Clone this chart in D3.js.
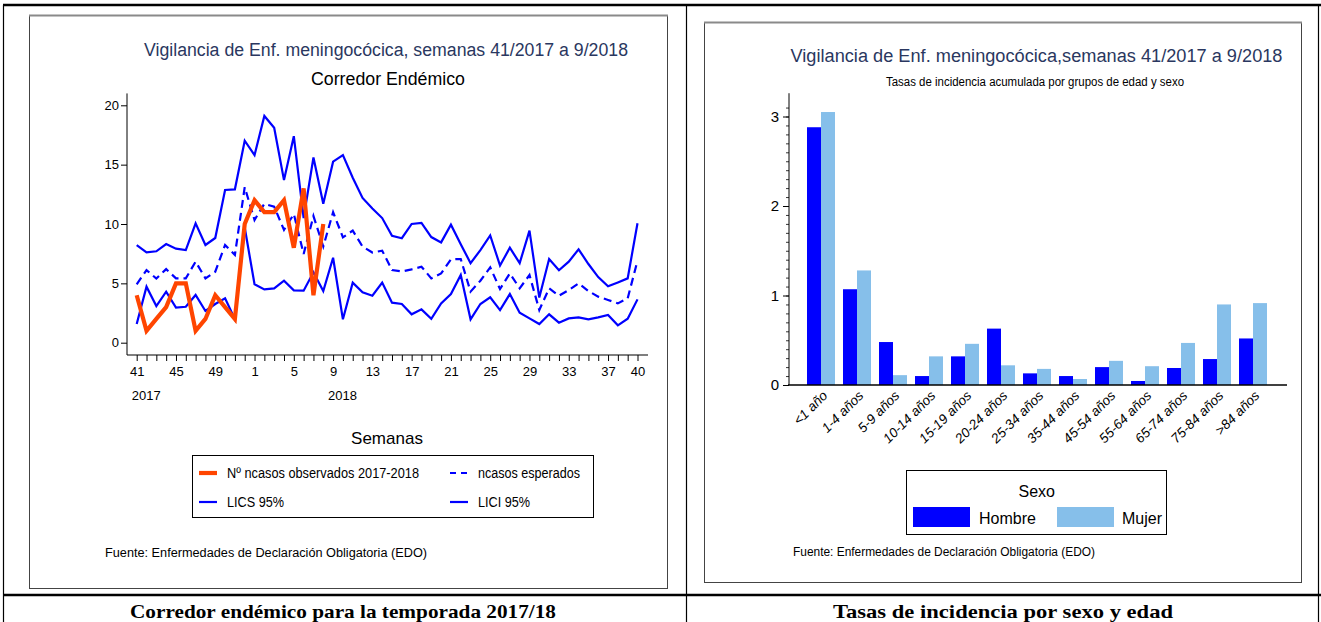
<!DOCTYPE html>
<html><head><meta charset="utf-8">
<script src="https://cdn.jsdelivr.net/npm/d3@7"></script>
<style>body{margin:0;background:#fff}svg{display:block}</style>
</head><body>
<svg id="c" width="1321" height="622"></svg>
<script>
// ---------- DATA ----------
const weeks = ["41","42","43","44","45","46","47","48","49","50","51","52",
  "1","2","3","4","5","6","7","8","9","10","11","12","13","14","15","16","17","18","19","20",
  "21","22","23","24","25","26","27","28","29","30","31","32","33","34","35","36","37","38","39","40"];
const weekTickLabels = ["41","45","49","1","5","9","13","17","21","25","29","33","37","40"];
const yearLabels = [{week:"41", label:"2017"},{week:"9", label:"2018"}];
const observed = [4,1,2,3,5,5,1,2,4,3,2,10,12,11,11,12,8,13,4,10];
const expected = [4.92,6.12,5.4,6.2,5.42,5.42,6.83,5.42,5.98,8.23,7.39,13.1,10.34,11.7,11.46,9.5,10.84,7.47,10.67,8.1,
  11.0,8.88,9.44,8.1,7.6,7.75,6.12,6.0,6.18,6.4,5.42,5.84,7.02,7.05,4.3,5.22,6.35,4.52,5.84,4.58,
  5.7,2.75,4.58,3.96,4.44,5.0,4.35,3.88,3.6,3.31,3.74,6.9];
const lics = [8.23,7.61,7.7,8.31,7.92,7.8,10.06,8.23,8.82,12.87,12.92,17.02,15.8,19.1,18.1,13.7,17.4,10.5,15.6,11.7,
  15.25,15.8,13.9,12.2,11.3,10.5,9.0,8.8,10.0,10.1,8.9,8.45,9.94,8.3,6.7,7.8,9.04,6.5,8.0,6.7,
  9.44,3.8,7.05,6.1,6.83,7.87,6.63,5.53,4.75,5.08,5.42,10.06];
const lici = [1.57,4.72,3.09,4.3,2.95,3.03,4.02,2.67,3.26,3.74,1.97,9.7,4.92,4.49,4.58,5.22,4.41,4.38,5.93,4.35,
  7.16,1.97,5.06,4.24,3.96,5.06,3.37,3.26,2.39,2.81,2.02,3.31,4.1,5.7,1.97,3.26,3.82,2.75,4.1,2.53,
  2.05,1.57,2.39,1.69,2.05,2.13,1.97,2.13,2.33,1.46,2.02,3.65];
const leftYTicks = [0,5,10,15,20];

const ageGroups = ["<1 año","1-4 años","5-9 años","10-14 años","15-19 años","20-24 años","25-34 años",
  "35-44 años","45-54 años","55-64 años","65-74 años","75-84 años",">84 años"];
const sexes = ["Hombre","Mujer"];
const hombre = [2.88,1.07,0.48,0.10,0.32,0.63,0.13,0.10,0.20,0.045,0.19,0.29,0.52];
const mujer  = [3.05,1.28,0.11,0.32,0.46,0.22,0.18,0.067,0.27,0.21,0.47,0.90,0.915];
const rightYTicks = [0,1,2,3];

// ---------- STYLE ----------
const NARROW = "'Liberation Sans Narrow','Arial Narrow','Liberation Sans',Arial,sans-serif";
const SERIF = "'Liberation Serif','Times New Roman',serif";
const BLUE = "#0000ff", ORANGE = "#ff4500", LIGHT = "#86bfea", NAVY = "#2a3760";

const svg = d3.select("#c");
svg.append("rect").attr("width",1321).attr("height",622).attr("fill","#fff");

// ---------- OUTER TABLE ----------
const tbl = svg.append("g").attr("stroke","#000").attr("fill","none");
tbl.append("line").attr("x1",3).attr("x2",1321).attr("y1",5).attr("y2",5).attr("stroke-width",2.5);
tbl.append("line").attr("x1",3.5).attr("x2",3.5).attr("y1",5).attr("y2",622).attr("stroke-width",1.2);
tbl.append("line").attr("x1",686.5).attr("x2",686.5).attr("y1",5).attr("y2",622).attr("stroke-width",1.2);
tbl.append("line").attr("x1",1318.5).attr("x2",1318.5).attr("y1",5).attr("y2",622).attr("stroke-width",1.2);
tbl.append("line").attr("x1",3).attr("x2",1321).attr("y1",595).attr("y2",595).attr("stroke-width",2.5);

function frame(x,y,w,h){
  svg.append("rect").attr("x",x+0.5).attr("y",y+0.5).attr("width",w).attr("height",h)
    .attr("fill","none").attr("stroke","#444").attr("stroke-width",1);
  svg.append("line").attr("x1",x).attr("x2",x+w+1).attr("y1",y+0.5).attr("y2",y+0.5)
    .attr("stroke","#8a8a8a").attr("stroke-width",2.2);
}
frame(29,15,638,573);
frame(704,22,597,560);

function txt(g, x, y, s, o){
  o = o || {};
  const t = g.append("text").attr("x",x).attr("y",y).text(s)
    .attr("font-family", o.family || NARROW).attr("font-size", o.size || 13)
    .attr("fill", o.fill || "#000").attr("text-anchor", o.anchor || "start")
    .attr("dominant-baseline","central");
  if (o.weight) t.attr("font-weight", o.weight);
  if (o.len) t.attr("textLength", o.len).attr("lengthAdjust","spacingAndGlyphs");
  return t;
}

// ---------- LEFT CHART ----------
const L = svg.append("g");
const xp = d3.scalePoint().domain(weeks).range([136.7,637.5]);
const yL = d3.scaleLinear().domain([0,20]).range([342.7,105.3]);

txt(L, 386, 50, "Vigilancia de Enf. meningocócica, semanas 41/2017 a 9/2018", {size:18, fill:NAVY, anchor:"middle", len:484});
txt(L, 388, 79, "Corredor Endémico", {size:18, anchor:"middle", len:154});

// y axis
const yAx = L.append("g").attr("transform","translate(127,0)")
  .call(d3.axisLeft(yL).tickValues(leftYTicks).tickSize(6).tickPadding(2));
yAx.select(".domain").remove();
yAx.selectAll("text").attr("font-family",NARROW).attr("font-size",13).attr("fill","#000");
yAx.selectAll("line").attr("stroke","#000");
L.append("line").attr("x1",127).attr("x2",127).attr("y1",yL(21)).attr("y2",355)
  .attr("stroke","#000").attr("stroke-width",1);

// x axis
const xAx = L.append("g").attr("transform","translate(0,355)")
  .call(d3.axisBottom(xp).tickValues(weeks).tickSize(6).tickPadding(6)
    .tickFormat(d => weekTickLabels.includes(d) ? d : ""));
xAx.select(".domain").remove();
xAx.selectAll("text").attr("font-family",NARROW).attr("font-size",13).attr("fill","#000");
xAx.selectAll("line").attr("stroke","#000");
L.append("line").attr("x1",127).attr("x2",xp(weeks[weeks.length-1]) + xp.step()*1.07).attr("y1",355).attr("y2",355)
  .attr("stroke","#000").attr("stroke-width",1.2);
yearLabels.forEach(d => txt(L, xp(d.week)-5, 395, d.label, {size:13}));

txt(L, 387, 438, "Semanas", {size:17, anchor:"middle"});

// lines
const line = d3.line().x((d,i) => xp(weeks[i])).y(d => yL(d));
L.append("path").datum(lics).attr("d",line).attr("fill","none").attr("stroke",BLUE).attr("stroke-width",2.2);
L.append("path").datum(lici).attr("d",line).attr("fill","none").attr("stroke",BLUE).attr("stroke-width",2.2);
L.append("path").datum(expected).attr("d",line).attr("fill","none").attr("stroke",BLUE).attr("stroke-width",2.2)
  .attr("stroke-dasharray","8,5");
L.append("path").datum(observed).attr("d",line).attr("fill","none").attr("stroke",ORANGE).attr("stroke-width",4.2)
  .attr("stroke-miterlimit",3);

// legend
L.append("rect").attr("x",192.5).attr("y",455.5).attr("width",401).attr("height",62)
  .attr("fill","none").attr("stroke","#000").attr("stroke-width",1);
const legItems = [
  {x:199, y:473, label:"Nº ncasos observados 2017-2018", color:ORANGE, w:4.2, dash:null, len:192},
  {x:450, y:473, label:"ncasos esperados", color:BLUE, w:2.2, dash:"6,5", len:102},
  {x:199, y:502, label:"LICS 95%", color:BLUE, w:2.2, dash:null, len:57},
  {x:450, y:502, label:"LICI 95%", color:BLUE, w:2.2, dash:null, len:52}
];
legItems.forEach(d => {
  const l = L.append("line").attr("x1",d.x).attr("x2",d.x+18).attr("y1",d.y).attr("y2",d.y)
    .attr("stroke",d.color).attr("stroke-width",d.w);
  if (d.dash) l.attr("stroke-dasharray",d.dash);
  txt(L, d.x+28, d.y, d.label, {size:14, len:d.len});
});

txt(L, 105, 553, "Fuente: Enfermedades de Declaración Obligatoria (EDO)", {size:12, len:322});

// ---------- RIGHT CHART ----------
const R = svg.append("g");
const x0 = d3.scaleBand().domain(ageGroups).range([803,1271]).paddingInner(0.222).paddingOuter(0.111);
const x1 = d3.scaleBand().domain(sexes).range([0, x0.bandwidth()]);
const yR = d3.scaleLinear().domain([0,3]).range([385,116.5]);
const color = d3.scaleOrdinal().domain(sexes).range([BLUE, LIGHT]);

txt(R, 1036.5, 56, "Vigilancia de Enf. meningocócica,semanas 41/2017 a 9/2018", {size:18, fill:NAVY, anchor:"middle", len:492});
txt(R, 1035, 82, "Tasas de incidencia acumulada por grupos de edad y sexo", {size:12, anchor:"middle", len:298});

// minor ticks
const yMin = R.append("g").attr("transform","translate(789,0)")
  .call(d3.axisLeft(yR).tickValues(d3.range(0,32).map(i => i/10)).tickSize(3).tickFormat(""));
yMin.select(".domain").remove();
yMin.selectAll("line").attr("stroke","#000").attr("stroke-width",0.8);
const yMaj = R.append("g").attr("transform","translate(789,0)")
  .call(d3.axisLeft(yR).tickValues(rightYTicks).tickSize(6).tickPadding(4).tickFormat(d3.format("d")));
yMaj.select(".domain").remove();
yMaj.selectAll("text").attr("font-family",NARROW).attr("font-size",15).attr("fill","#000");
yMaj.selectAll("line").attr("stroke","#000");
R.append("line").attr("x1",789).attr("x2",789).attr("y1",yR(3.26)).attr("y2",385).attr("stroke","#000").attr("stroke-width",1);

// bars
const rows = ageGroups.map((g,i) => ({group:g, vals:[{sex:"Hombre", v:hombre[i]},{sex:"Mujer", v:mujer[i]}]}));
R.selectAll("g.grp").data(rows).join("g").attr("class","grp")
  .attr("transform", d => `translate(${x0(d.group)},0)`)
  .selectAll("rect").data(d => d.vals).join("rect")
  .attr("x", d => x1(d.sex)).attr("width", x1.bandwidth())
  .attr("y", d => yR(d.v)).attr("height", d => yR(0) - yR(d.v))
  .attr("fill", d => color(d.sex));

R.append("line").attr("x1",788).attr("x2",1287).attr("y1",385).attr("y2",385).attr("stroke","#000").attr("stroke-width",1.5);

// x labels
ageGroups.forEach(g => {
  R.append("text").text(g)
    .attr("transform", `translate(${x0(g)+x0.bandwidth()/2+4},393) rotate(-45)`)
    .attr("text-anchor","end").attr("dy","0.35em")
    .attr("font-family",NARROW).attr("font-size",13.5).attr("font-style","italic").attr("fill","#000");
});

// legend
R.append("rect").attr("x",906.5).attr("y",470.5).attr("width",260).attr("height",64)
  .attr("fill","none").attr("stroke","#000").attr("stroke-width",1);
txt(R, 1036.7, 491, "Sexo", {size:16, anchor:"middle"});
const legR = [{sex:"Hombre", x:913, tx:979},{sex:"Mujer", x:1057, tx:1122}];
legR.forEach(d => {
  R.append("rect").attr("x",d.x).attr("y",507).attr("width",57).attr("height",20).attr("fill",color(d.sex));
  txt(R, d.tx, 518, d.sex, {size:16});
});

txt(R, 793, 552, "Fuente: Enfermedades de Declaración Obligatoria (EDO)", {size:12, len:302});

// ---------- CAPTIONS ----------
txt(svg, 343, 611, "Corredor endémico para la temporada 2017/18", {size:19, family:SERIF, weight:"bold", anchor:"middle", len:426});
txt(svg, 1003, 611, "Tasas de incidencia por sexo y edad", {size:19, family:SERIF, weight:"bold", anchor:"middle", len:340});
</script>
</body></html>
